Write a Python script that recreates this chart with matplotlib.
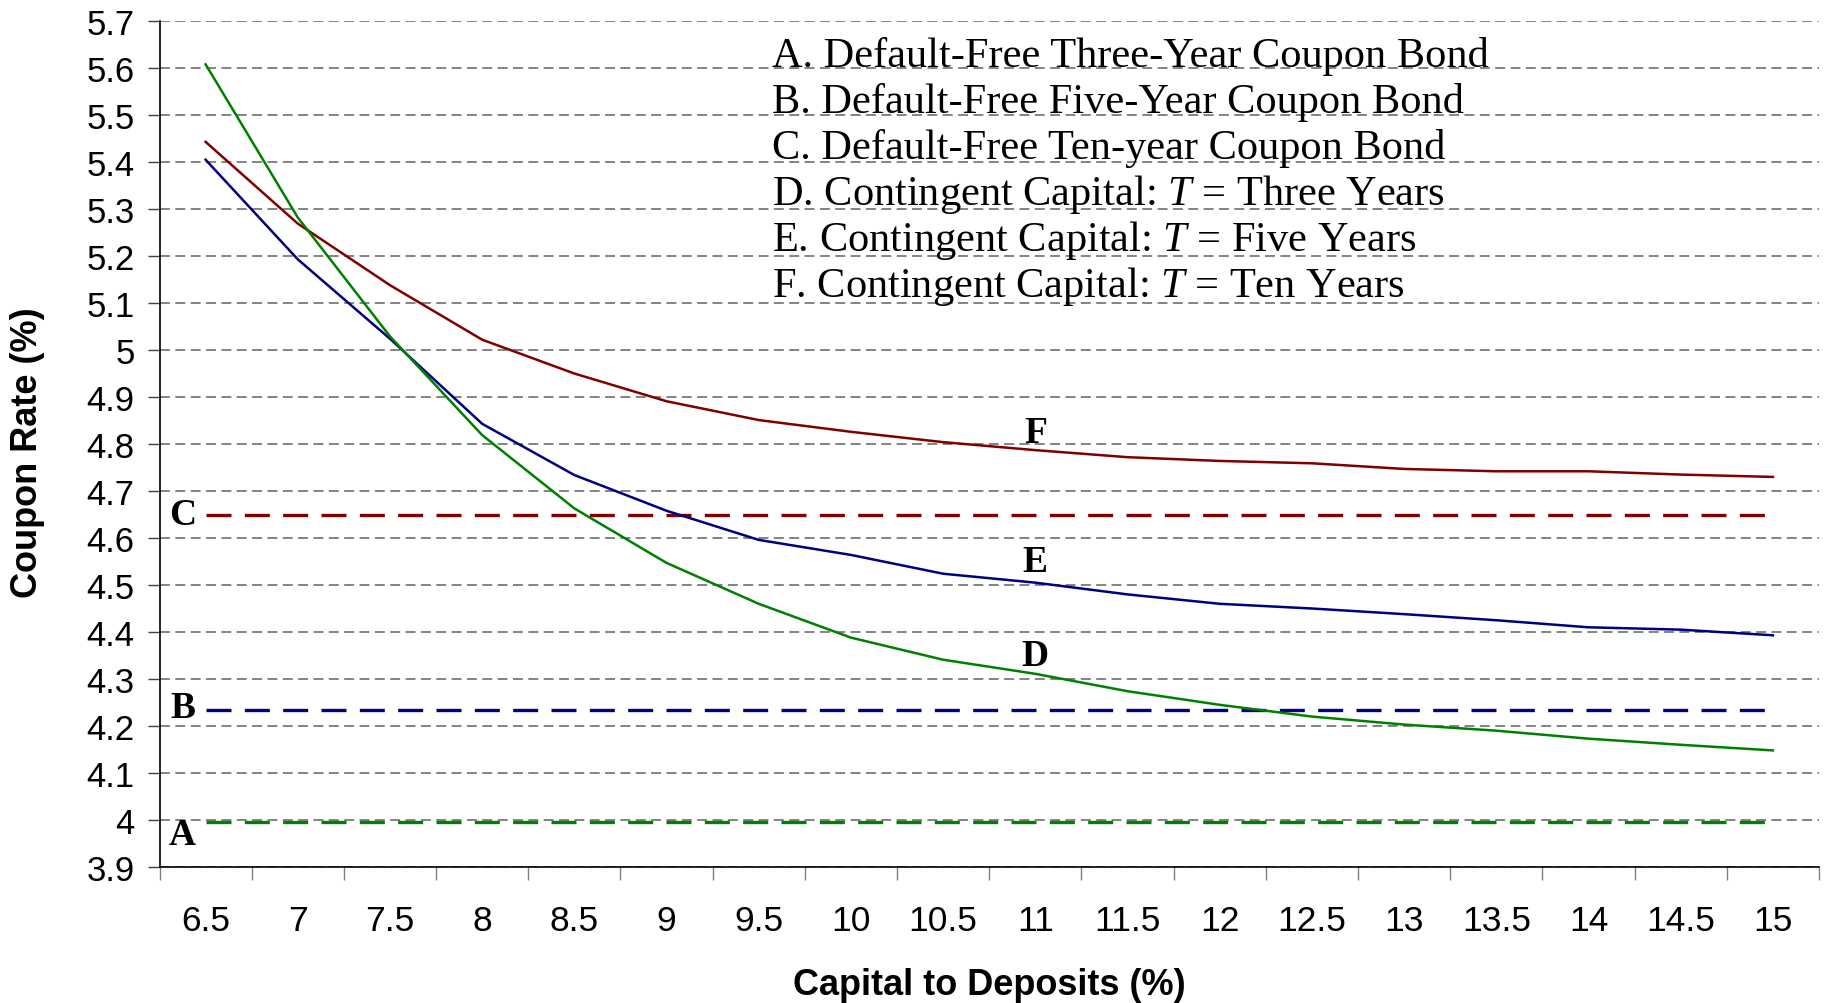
import matplotlib
matplotlib.use("Agg")
import matplotlib.pyplot as plt

# Coupon rates vs capital-to-deposits ratio

capital = [6.5, 7, 7.5, 8, 8.5, 9, 9.5, 10, 10.5, 11, 11.5, 12, 12.5, 13, 13.5, 14, 14.5, 15]
tick_labels = ['6.5', '7', '7.5', '8', '8.5', '9', '9.5', '10', '10.5', '11',
               '11.5', '12', '12.5', '13', '13.5', '14', '14.5', '15']

cc_three = [5.608, 5.282, 5.029, 4.819, 4.663, 4.547, 4.460, 4.388, 4.341, 4.311,
            4.274, 4.245, 4.220, 4.203, 4.190, 4.173, 4.160, 4.148]
cc_five = [5.405, 5.193, 5.024, 4.843, 4.734, 4.658, 4.596, 4.564, 4.524, 4.505,
           4.480, 4.460, 4.450, 4.438, 4.425, 4.410, 4.405, 4.393]
cc_ten = [5.443, 5.269, 5.138, 5.022, 4.950, 4.891, 4.851, 4.826, 4.804, 4.787,
          4.772, 4.764, 4.759, 4.747, 4.742, 4.742, 4.735, 4.730]

bond_three = 3.995
bond_five = 4.235
bond_ten = 4.65

legend_lines = [
    'A. Default-Free Three-Year Coupon Bond',
    'B. Default-Free Five-Year Coupon Bond',
    'C. Default-Free Ten-year Coupon Bond',
    'D. Contingent Capital: $T$ = Three Years',
    'E. Contingent Capital: $T$ = Five Years',
    'F. Contingent Capital: $T$ = Ten Years',
]

RED = '#800000'
BLUE = '#000080'
GREEN = '#008000'

plt.rcParams['font.family'] = ['Liberation Sans', 'DejaVu Sans']
plt.rcParams['mathtext.fontset'] = 'custom'
plt.rcParams['mathtext.rm'] = 'Liberation Serif'
plt.rcParams['mathtext.it'] = 'Liberation Serif:italic'

fig = plt.figure(figsize=(18.25, 10.04), dpi=100)
ax = fig.add_axes([0.0874, 0.1355, 0.9093, 0.8425])

# horizontal grid
yticks = [3.9 + 0.1 * i for i in range(19)]
for y in yticks:
    ax.axhline(y, color='#7a7a7a', lw=1.3, dashes=(5.5, 3), zorder=1)

# default-free bonds (dashed)
ax.plot([capital[0], capital[-1]], [bond_ten, bond_ten], color=RED, lw=2.4, dashes=(7.5, 4), zorder=2)
ax.plot([capital[0], capital[-1]], [bond_five, bond_five], color=BLUE, lw=2.4, dashes=(7.5, 4), zorder=2)
ax.plot([capital[0], capital[-1]], [bond_three, bond_three], color=GREEN, lw=2.4, dashes=(7.5, 4), zorder=2)

# contingent capital
ax.plot(capital, cc_ten, color=RED, lw=1.8, zorder=3)
ax.plot(capital, cc_five, color=BLUE, lw=1.8, zorder=3)
ax.plot(capital, cc_three, color=GREEN, lw=1.8, zorder=3)

lab = dict(fontsize=27, fontweight='bold', family='Liberation Serif', ha='center', va='center')
ax.text(6.375, 3.97, 'A', **lab)
ax.text(6.375, 4.24, 'B', **lab)
ax.text(6.375, 4.65, 'C', **lab)
ax.text(11, 4.35, 'D', **lab)
ax.text(11, 4.55, 'E', **lab)
ax.text(11, 4.825, 'F', **lab)

for i, line in enumerate(legend_lines):
    ax.text(0.369, 5.627 - 0.0981 * i, line, transform=ax.get_yaxis_transform(),
            fontsize=30.5, family='Liberation Serif', ha='left', va='center')

ax.set_xlim(6.25, 15.25)
ax.set_ylim(3.9, 5.7)
ax.set_xticks(capital)
ax.set_xticklabels(tick_labels)
ax.set_xticks([6.25 + 0.5 * i for i in range(19)], minor=True)
ax.set_yticks(yticks)
ax.set_yticklabels(['%g' % round(y, 1) for y in yticks])

ax.tick_params(axis='x', which='major', length=0, pad=27, labelsize=25.5)
ax.tick_params(axis='x', which='minor', length=9, width=1, color='#808080')
ax.tick_params(axis='y', length=9, width=1, color='#404040', pad=9, labelsize=25)

for s in ['top', 'right']:
    ax.spines[s].set_visible(False)
ax.spines['left'].set_linewidth(1.2)
ax.spines['bottom'].set_linewidth(1.2)

ax.set_xlabel('Capital to Deposits (%)', fontsize=26, fontweight='bold', va='center')
ax.xaxis.set_label_coords(0.5, -0.1395)
ax.set_ylabel('Coupon Rate (%)', fontsize=26, fontweight='bold', va='center')
ax.yaxis.set_label_coords(-0.0795, 0.4905)

fig.savefig('out.png', dpi=100)
